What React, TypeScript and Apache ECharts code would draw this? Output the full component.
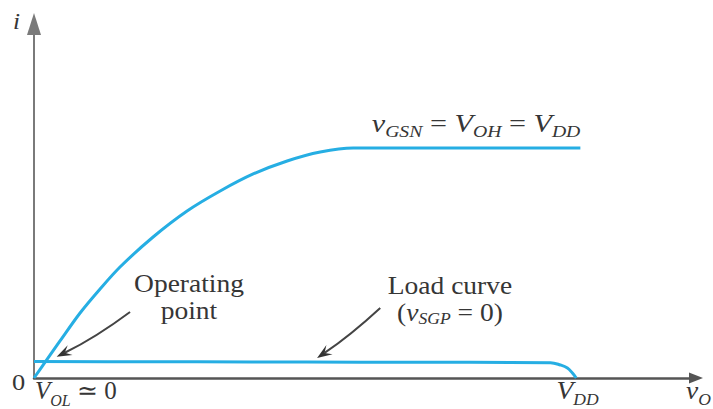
import React, { useEffect, useRef } from "react";
import * as echarts from "echarts";

// Supply voltage V_DD (volts) and axis extents
const VDD = 5;
const X_MAX = 6.08;
const Y_MAX = 3.078;

// Driver (NMOS) characteristic with v_GSN = V_OH = V_DD
const driverV = [0, 0.11, 0.239, 0.423, 0.607, 0.79, 1.094, 1.406, 1.71, 2.013, 2.325, 2.629, 2.932, 3.364, 5.018];
const driverI = [0, 0.148, 0.322, 0.565, 0.774, 0.965, 1.226, 1.452, 1.626, 1.774, 1.887, 1.965, 2.0, 2.0, 2.0];

// Load (PMOS) curve with v_SGP = 0
const loadV = [0, 1, 2, 3, 4, 4.743, 4.835, 4.899, 4.945, 4.98];
const loadI = [0.143, 0.141, 0.14, 0.138, 0.136, 0.133, 0.113, 0.087, 0.043, 0];

// Annotation arrows: [tailV, tailI, tipV, tipI]
const opArrow = [0.882, 0.574, 0.208, 0.185];
const loadArrow = [3.18, 0.609, 2.6, 0.174];

const CURVE = "#26aee3";
const INK = "#363636";
const SERIF = "Liberation Serif";

const zip = (a: number[], b: number[]) => a.map((v, i) => [v, b[i]]);

function richText(x: number, y: number, text: string, rich: any, align = "left", stretch = 1.1) {
  return {
    type: "text",
    x,
    y,
    scaleX: stretch,
    silent: true,
    style: {
      text,
      rich,
      fill: INK,
      fontFamily: SERIF,
      fontSize: 24,
      textAlign: align,
      align,
      textVerticalAlign: "top",
      verticalAlign: "top",
    },
  };
}

const baseRich = (size: number, lh: number, sub = Math.round(size * 0.62)) => ({
  t: { fontSize: size, fontFamily: SERIF, fill: INK, lineHeight: lh, verticalAlign: "top" },
  i: { fontSize: size, fontFamily: SERIF, fontStyle: "italic", fill: INK, lineHeight: lh, verticalAlign: "top" },
  s: { fontSize: sub, fontFamily: SERIF, fontStyle: "italic", fill: INK, lineHeight: 16, verticalAlign: "bottom" },
});

function arrow(chart: any, spec: number[], bend: number) {
  const [tx, ty] = chart.convertToPixel({ gridIndex: 0 }, [spec[0], spec[1]]);
  const [px, py] = chart.convertToPixel({ gridIndex: 0 }, [spec[2], spec[3]]);
  const dx = px - tx;
  const dy = py - ty;
  const len = Math.hypot(dx, dy);
  const nx = -dy / len;
  const ny = dx / len;
  const cx = (tx + px) / 2 + nx * bend;
  const cy = (ty + py) / 2 + ny * bend;
  // direction of the curve where it reaches the tip
  let ex = px - cx;
  let ey = py - cy;
  const el = Math.hypot(ex, ey);
  ex /= el;
  ey /= el;
  const hl = 15;
  const hw = 5.5;
  const bx = px - ex * hl;
  const by = py - ey * hl;
  return [
    {
      type: "bezierCurve",
      silent: true,
      shape: { x1: tx, y1: ty, cpx1: cx, cpy1: cy, x2: px - ex * 9, y2: py - ey * 9 },
      style: { stroke: "#444", lineWidth: 2, fill: "none" },
    },
    {
      type: "polygon",
      silent: true,
      shape: {
        points: [
          [px, py],
          [bx - ey * hw, by + ex * hw],
          [px - ex * (hl - 6), py - ey * (hl - 6)],
          [bx + ey * hw, by - ex * hw],
        ],
      },
      style: { fill: "#333" },
    },
  ];
}

export default function App() {
  const ref = useRef<HTMLDivElement>(null);

  useEffect(() => {
    const chart = echarts.init(ref.current!, null, { renderer: "svg" });
    const axisBase = {
      type: "value",
      axisTick: { show: false },
      axisLabel: { show: false },
      splitLine: { show: false },
    };
    chart.setOption({
      animation: false,
      backgroundColor: "#ffffff",
      grid: { left: 34, right: 17, top: 24, bottom: 31 },
      xAxis: {
        ...axisBase,
        min: 0,
        max: X_MAX,
        axisLine: {
          show: true,
          onZero: false,
          symbol: ["none", "triangle"],
          symbolSize: [11, 14],
          lineStyle: { color: "#555", width: 2.5 },
        },
      },
      yAxis: {
        ...axisBase,
        min: 0,
        max: Y_MAX,
        axisLine: {
          show: true,
          onZero: false,
          symbol: ["none", "triangle"],
          symbolSize: [14, 22],
          lineStyle: { color: "#7a7a7a", width: 2 },
        },
      },
      series: [
        {
          name: "driver",
          type: "line",
          data: zip(driverV, driverI),
          showSymbol: false,
          smooth: 0.3,
          lineStyle: { color: CURVE, width: 3 },
        },
        {
          name: "load",
          type: "line",
          data: zip(loadV, loadI),
          showSymbol: false,
          smooth: 0.4,
          lineStyle: { color: CURVE, width: 3 },
        },
      ],
    });

    const [vddX] = chart.convertToPixel({ gridIndex: 0 }, [VDD, 0]);
    const [plateauX, plateauY] = chart.convertToPixel({ gridIndex: 0 }, [
      driverV[driverV.length - 1],
      driverI[driverI.length - 1],
    ]);
    const r25 = baseRich(25, 27, 16);

    chart.setOption({
      graphic: [
        ...arrow(chart, opArrow, -4),
        ...arrow(chart, loadArrow, -3),
        richText(plateauX, plateauY - 38, "{i|v}{s|GSN}{t| = }{i|V}{s|OH}{t| = }{i|V}{s|DD}", baseRich(26, 30, 17), "right", 1.16),
        richText(189, 271, "{t|Operating}\n{t|point}", r25, "center"),
        richText(450, 273, "{t|Load curve}\n{t|(}{i|v}{s|SGP}{t| = 0)}", r25, "center"),
        richText(35, 378, "{i|V}{s|OL}{t| ≃ 0}", baseRich(25, 30, 16), "left", 1.0),
        richText(vddX - 22, 378, "{i|V}{s|DD}", baseRich(25, 30, 16), "left"),
        richText(686, 378, "{i|v}{s|O}", baseRich(25, 30, 16), "left"),
        richText(12, 370, "{t|0}", baseRich(24, 30), "left"),
        richText(13, 9, "{i|i}", baseRich(23, 30), "left"),
      ],
    });

    return () => chart.dispose();
  }, []);

  return (
    <div
      ref={ref}
      style={{ position: "fixed", left: 0, top: 0, width: 713, height: 409 }}
    />
  );
}
